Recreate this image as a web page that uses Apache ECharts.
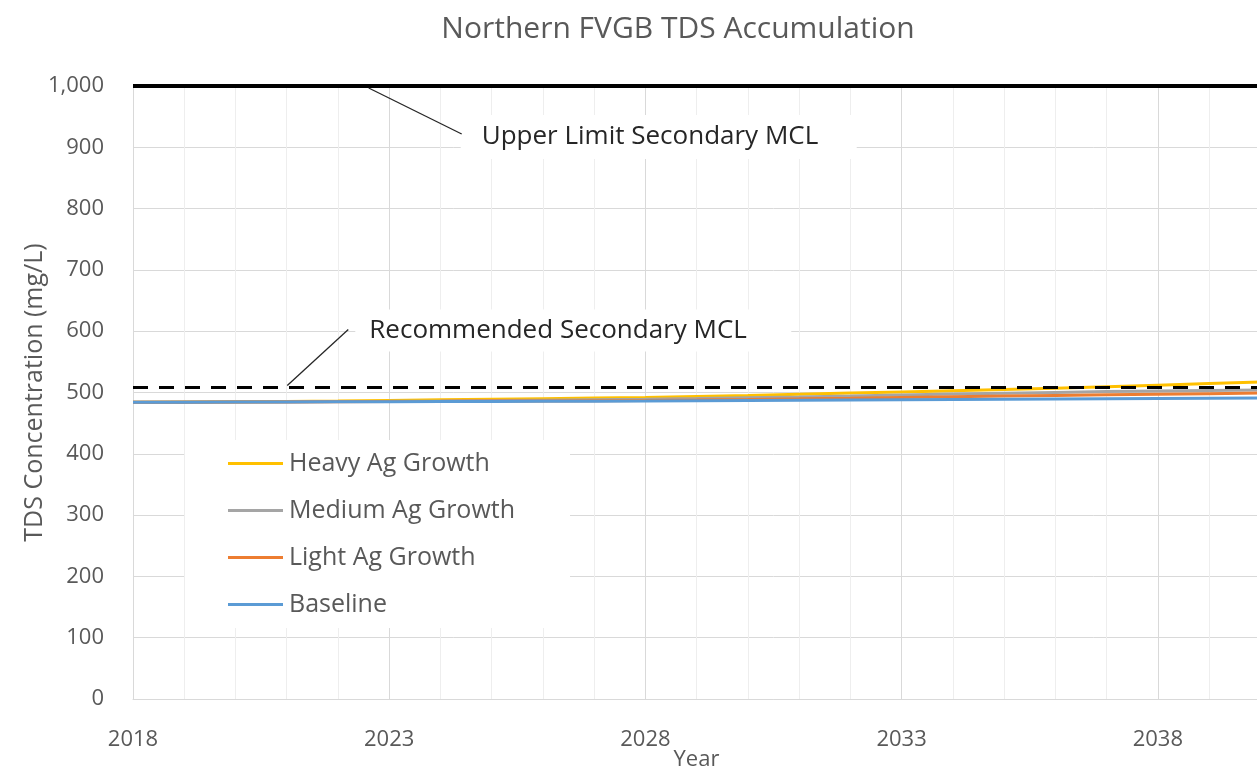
<!DOCTYPE html>
<html lang="en">

<head>
    <meta charset="UTF-8">
    <title>Northern FVGB TDS Accumulation</title>
    <style>
        html, body { margin: 0; padding: 0; overflow: hidden; background: #fff; }
    </style>
</head>
<script src="https://cdn.jsdelivr.net/npm/echarts@6/dist/echarts.min.js"></script>

<body>

    <!-- wider than the window: the plot runs past the right edge like the original -->
    <div id="main" style="width: 1420px;height: 770px;"></div>

    <script type="text/javascript">
        // data
        var years = [2018, 2019, 2020, 2021, 2022, 2023, 2024, 2025, 2026, 2027, 2028, 2029,
            2030, 2031, 2032, 2033, 2034, 2035, 2036, 2037, 2038, 2039, 2040];
        var heavyAg = [484, 484.5, 485, 485.5, 486, 487, 488, 489, 490, 491, 492, 493.5,
            495, 497, 499, 501, 503, 505, 507, 509.5, 512, 514.5, 517];
        var mediumAg = [484, 484.3, 484.6, 485, 485.4, 485.8, 486.3, 486.9, 487.5, 488.2, 489, 490.2,
            491.5, 492.8, 494.3, 496, 497.4, 498.8, 500.2, 501.5, 502.6, 503.4, 504];
        var lightAg = [484, 484.2, 484.4, 484.7, 485, 485.3, 485.6, 486, 486.3, 486.6, 487, 487.8,
            488.7, 489.7, 490.8, 492, 493.1, 494.2, 495.3, 496.3, 497.2, 498.1, 499];
        var baseline = [484, 484.2, 484.4, 484.6, 484.8, 485, 485.2, 485.4, 485.6, 485.8, 486, 486.4,
            486.8, 487.2, 487.6, 488, 488.4, 488.8, 489.3, 489.8, 490.2, 490.6, 491];
        var seriesNames = ['Heavy Ag Growth', 'Medium Ag Growth', 'Light Ag Growth', 'Baseline'];
        var seriesColors = ['#FFC000', '#A5A5A5', '#ED7D31', '#5B9BD5'];
        var upperLimit = 1000;
        var recommended = 508;

        var font = '"Open Sans", Lato, sans-serif';
        var grey = '#595959';

        function pairs(vals) {
            return vals.map(function (v, i) { return [years[i], v]; });
        }

        var lines = [heavyAg, mediumAg, lightAg, baseline].map(function (vals, i) {
            return {
                name: seriesNames[i],
                type: 'line',
                data: pairs(vals),
                symbol: 'none',
                lineStyle: { width: 3, color: seriesColors[i] },
                itemStyle: { color: seriesColors[i] },
                z: 3
            };
        });

        // the two MCL limits
        lines.push({
            type: 'line',
            data: [],
            silent: true,
            markLine: {
                symbol: 'none',
                silent: true,
                label: { show: false },
                data: [
                    { yAxis: upperLimit, lineStyle: { color: '#000', width: 4, type: 'solid' } },
                    { yAxis: recommended, lineStyle: { color: '#000', width: 3, type: [15, 11] } }
                ]
            },
            z: 5
        });

        var myChart = echarts.init(document.getElementById('main'));
        var option = {
            animation: false,
            title: {
                text: 'Northern FVGB TDS Accumulation',
                left: 673,
                top: 9,
                textAlign: 'center',
                textStyle: { fontFamily: font, fontWeight: 'normal', fontSize: 30, color: grey }
            },
            grid: { left: 133, right: 6, top: 86, bottom: 71, containLabel: false, outerBoundsMode: 'none' },
            legend: {
                orient: 'vertical',
                left: 185,
                top: 440,
                padding: [11, 55, 11, 43],
                backgroundColor: '#fff',
                icon: 'rect',
                itemWidth: 55,
                itemHeight: 3,
                itemGap: 22,
                data: seriesNames,
                textStyle: { fontFamily: font, fontSize: 25, color: grey, lineHeight: 25, padding: [0, 0, 0, 1] },
                z: 4
            },
            xAxis: {
                type: 'value',
                min: 2018,
                max: 2043,
                interval: 5,
                name: 'Year',
                nameLocation: 'middle',
                nameGap: 50,
                nameMoveOverlap: false,
                // the visible part of the axis is narrower than the drawn one
                nameTextStyle: { fontFamily: font, fontSize: 22, color: grey, padding: [0, 154, 0, 0] },
                axisLine: { lineStyle: { color: '#d9d9d9', width: 1 } },
                axisTick: { show: false },
                axisLabel: {
                    margin: 30,
                    fontFamily: font, fontSize: 22, color: grey,
                    formatter: function (v) { return String(v); },
                    showMaxLabel: false
                },
                splitLine: { show: true, lineStyle: { color: '#d9d9d9', width: 1 } },
                minorTick: { show: false, splitNumber: 5 },
                minorSplitLine: { show: true, lineStyle: { color: '#eeeeee', width: 1 } }
            },
            yAxis: {
                type: 'value',
                min: 0,
                max: 1000,
                interval: 100,
                name: 'TDS Concentration (mg/L)',
                nameLocation: 'middle',
                nameGap: 86,
                nameMoveOverlap: false,
                nameTextStyle: { fontFamily: font, fontSize: 25, color: grey },
                axisLine: { show: true, lineStyle: { color: '#d9d9d9', width: 1 } },
                axisTick: { show: false },
                axisLabel: { margin: 29, fontFamily: font, fontSize: 22, color: grey },
                splitLine: { show: true, lineStyle: { color: '#d9d9d9', width: 1 } }
            },
            series: lines
        };
        myChart.setOption(option);

        // annotation call-outs, anchored on the limit lines
        var upA = myChart.convertToPixel({ gridIndex: 0 }, [2022.6, upperLimit]);
        var recA = myChart.convertToPixel({ gridIndex: 0 }, [2021.05, recommended]);
        var noteStyle = { fontFamily: font, fontSize: 26, fill: '#262626' };
        myChart.setOption({
            graphic: [
                { type: 'rect', z: 50, shape: { x: upA[0] + 92, y: upA[1] + 29, width: 396, height: 44 }, style: { fill: '#fff' } },
                { type: 'line', z: 51, shape: { x1: upA[0], y1: upA[1] + 2, x2: upA[0] + 93, y2: upA[1] + 48 }, style: { stroke: '#262626', lineWidth: 1.3 } },
                { type: 'text', z: 51, x: upA[0] + 113, y: upA[1] + 51, style: Object.assign({ text: 'Upper Limit Secondary MCL', verticalAlign: 'middle' }, noteStyle) },
                { type: 'rect', z: 50, shape: { x: recA[0] + 66, y: recA[1] - 78, width: 436, height: 42 }, style: { fill: '#fff' } },
                { type: 'line', z: 51, shape: { x1: recA[0] - 2, y1: recA[1] - 2, x2: recA[0] + 59, y2: recA[1] - 58 }, style: { stroke: '#262626', lineWidth: 1.3 } },
                { type: 'text', z: 51, x: recA[0] + 80, y: recA[1] - 57, style: Object.assign({ text: 'Recommended Secondary MCL', verticalAlign: 'middle' }, noteStyle) }
            ]
        });
    </script>
</body>

</html>
